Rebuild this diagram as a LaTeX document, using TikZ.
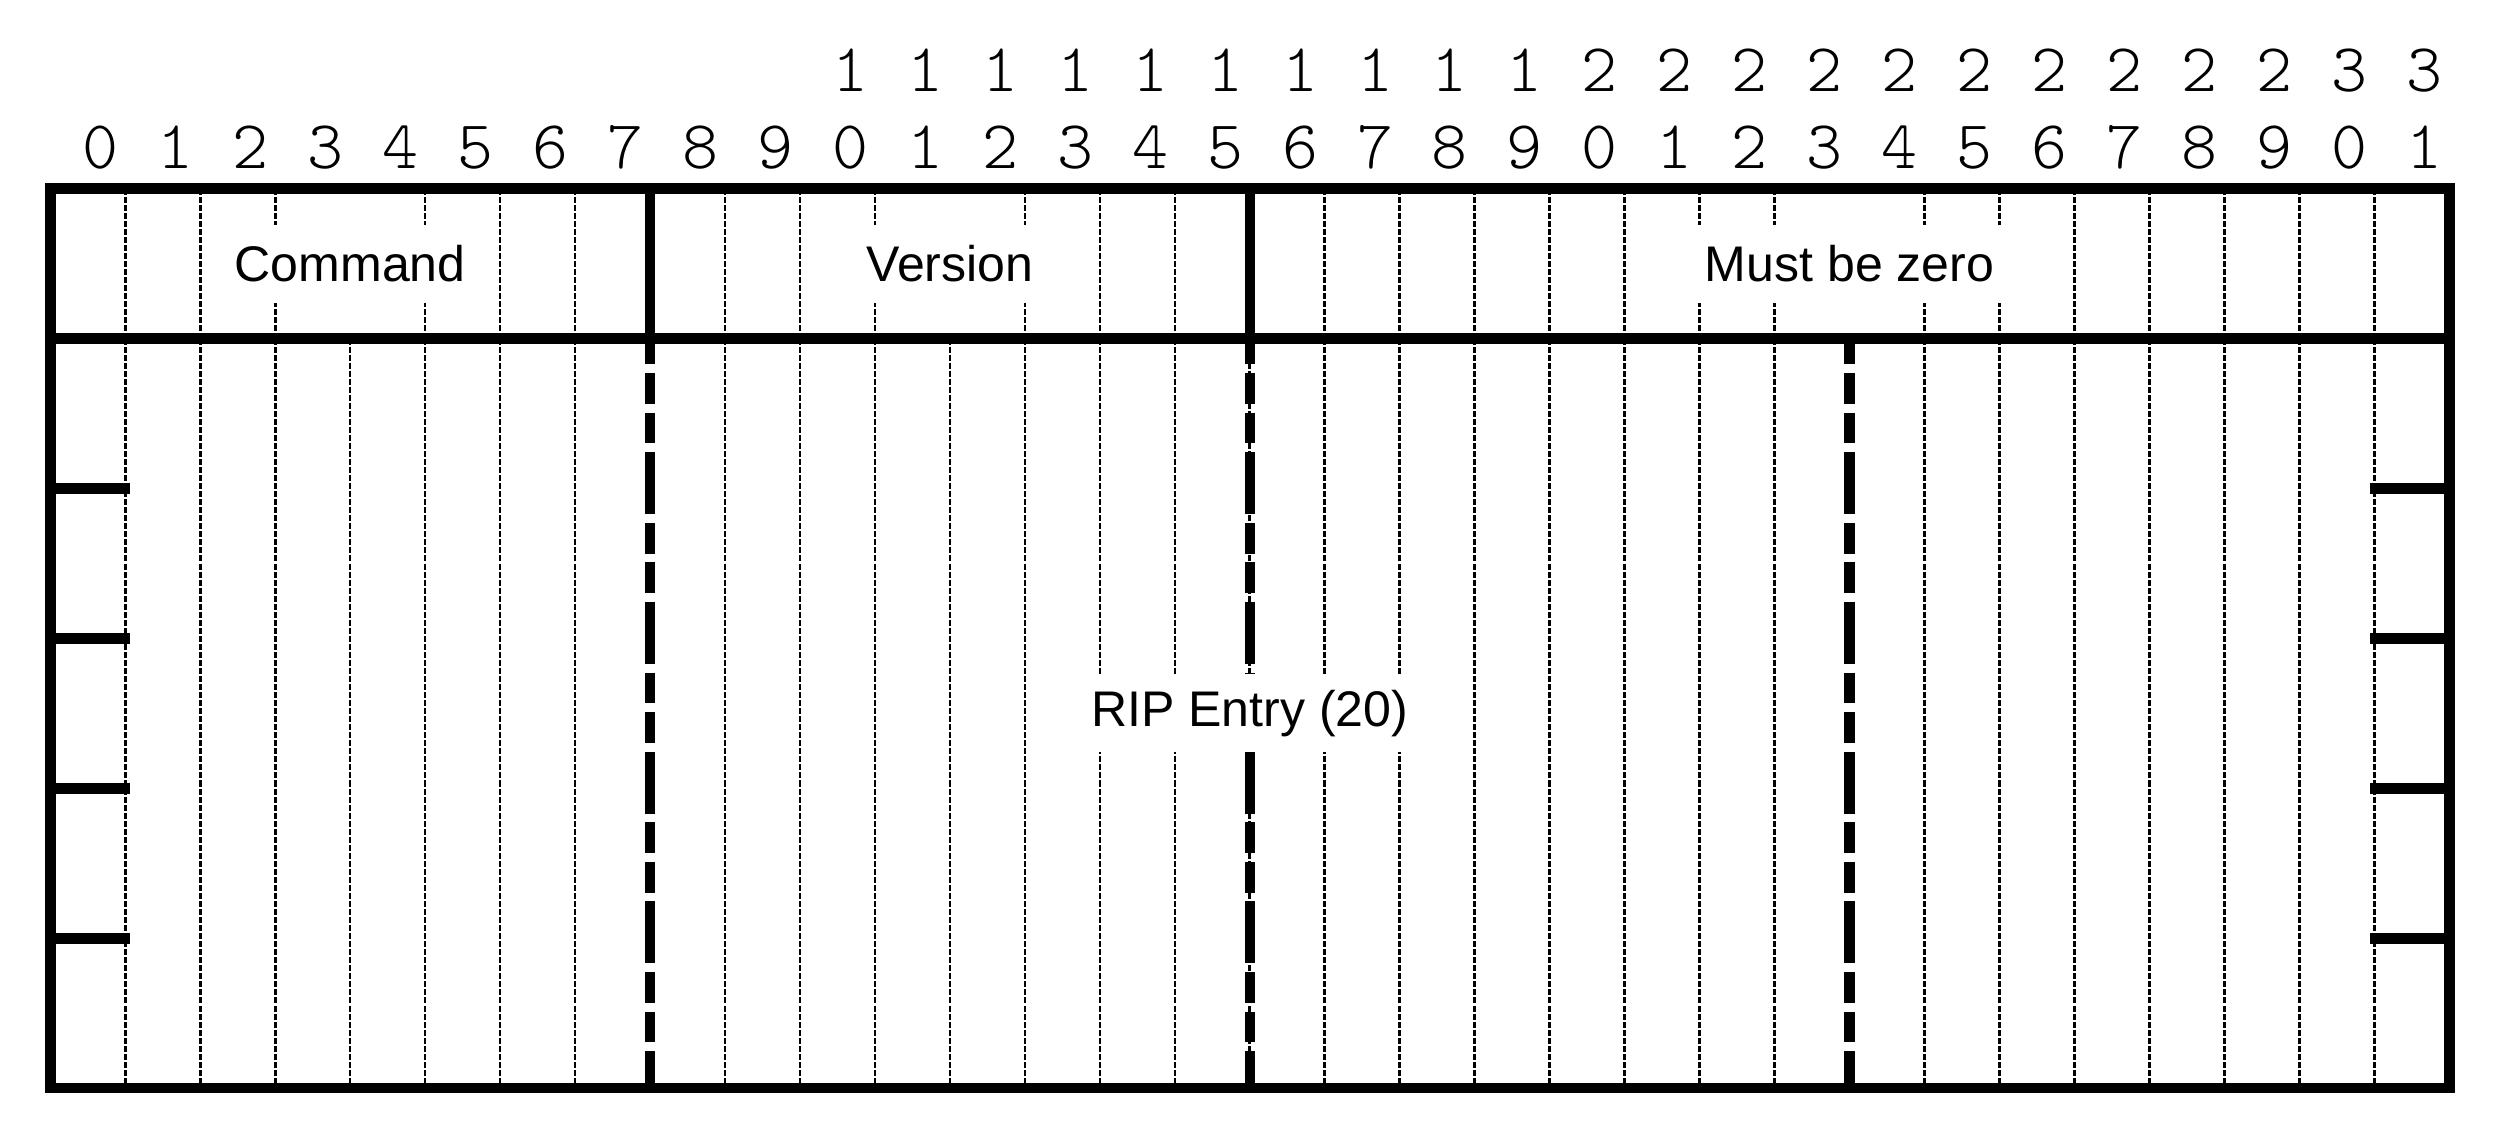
\documentclass[tikz,border=0pt]{standalone}
\usepackage{fontspec}
\setmainfont{Liberation Sans}
\newfontfamily\bitfont{lmmonolt10-regular.otf}
\begin{document}
\begin{tikzpicture}[x=0.6cm, y=0.6cm,
    field/.style = {fill=white, inner xsep=4pt, inner ysep=0pt,
      minimum height=0.624cm, font=\fontsize{11.4}{13}\selectfont},
    bitnum/.style = {inner sep=0pt, font=\bitfont\fontsize{15.6}{16}\selectfont},
    bitline/.style = {line width=0.6pt, dash pattern=on 1.37pt off 0.46pt},
    frame/.style = {line width=2.4pt},
    gap/.style = {line width=2.4pt,
      dash pattern=on 14.1pt off 2pt on 7pt off 2pt on 7pt off 2pt,
      dash phase=8.2pt},
  ]
  \useasboundingbox (-0.671,-12.627) rectangle (32.65,2.515);

  % bit numbers
  \foreach \b in {0,...,31} {
    \pgfmathtruncatemacro{\ones}{mod(\b,10)}
    \pgfmathtruncatemacro{\tens}{div(\b,10)}
    \node[bitnum] (one\b) at (\b+0.67,0.547) {\ones};
    \ifnum\b>9 \node[bitnum] (ten\b) at (\b+0.67,1.58) {\tens}; \fi
  }

  % thin bit separators
  \foreach \b in {1,2,3,5,6,7,9,10,11,13,14,15,17,18,19,20,21,22,23,25,26,27,28,29,30,31}
    \draw[bitline] (\b,0) -- (\b,-2);
  \foreach \b in {1,2,3,4,5,6,7,9,10,11,12,13,14,15,16,17,18,19,20,21,22,23,25,26,27,28,29,30,31}
    \draw[bitline] (\b,-2) -- (\b,-12);

  % word boundaries
  \foreach \b in {8,16} \draw[frame] (\b,0) -- (\b,-2);
  \foreach \b in {8,16,24} \draw[gap] (\b,-2) -- (\b,-12);

  % fields
  \node[field] (command) at (4,-1) {Command};
  \node[field] (version) at (12,-1) {Version};
  \node[field] (zero) at (24,-1) {Must be zero};
  \node[field] (entry) at (16,-7) {RIP Entry (20)};

  % frame and row ticks
  \foreach \y in {-4,-6,-8,-10} {
    \draw[frame] (0,\y) -- (1.06,\y);
    \draw[frame] (30.94,\y) -- (32,\y);
  }
  \draw[frame] (0,-2) -- (32,-2);
  \draw[frame] (0,0) rectangle (32,-12);
\end{tikzpicture}
\end{document}
